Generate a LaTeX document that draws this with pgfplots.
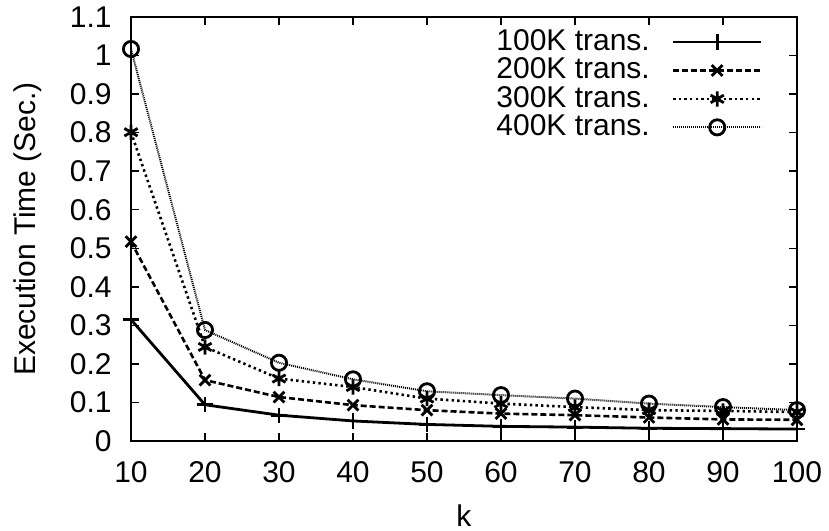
\documentclass[border=0pt]{standalone}
\usepackage{pgfplots}
\pgfplotsset{compat=1.18}
\usepackage{fontspec}
\setmainfont{Liberation Sans}
\begin{document}
\fontsize{15bp}{17bp}\selectfont
\begin{tikzpicture}
\useasboundingbox (-65.5bp,-45bp) rectangle (349bp,220.5bp);
\begin{axis}[
  at={(0,0)}, anchor=south west,
  scale only axis, width=333bp, height=212bp,
  xmin=10, xmax=100, ymin=0, ymax=1.1,
  xtick={10,20,...,100},
  ytick={0,0.1,...,1.1},
  yticklabels={0,0.1,0.2,0.3,0.4,0.5,0.6,0.7,0.8,0.9,1,1.1},
  /pgf/number format/assume math mode=true,
  tick align=inside, major tick length=4.2bp,
  tick style={black, line width=0.7bp},
  axis line style={line width=0.9bp},
  ticklabel style={font=\fontsize{15bp}{17bp}\selectfont},
  xticklabel style={yshift=-5bp},
  yticklabel style={xshift=-4.5bp},
  label style={font=\fontsize{15bp}{17bp}\selectfont},
  xlabel={k}, ylabel={Execution Time (Sec.)},
  xlabel style={yshift=-1bp},
  ylabel style={yshift=4bp},
  legend plot pos=right,
  legend cell align=right,
  legend style={at={(rel axis cs:1,1)}, anchor=north east, xshift=-14bp, yshift=-2bp,
    draw=none, fill=none, font=\fontsize{15bp}{17bp}\selectfont, row sep=-2.5bp, column sep=9bp},
  legend image code/.code={\draw[mark repeat=2,mark phase=2,#1] plot coordinates {(0bp,0bp) (22bp,0bp) (44bp,0bp)};},
  every axis plot/.append style={black, mark size=3.8bp, mark options={solid, line width=1.4bp}},
]
\addplot[line width=1.4bp, mark=+] coordinates {
(10,0.315) (20,0.094) (30,0.067) (40,0.052) (50,0.043) (60,0.038) (70,0.036) (80,0.033) (90,0.032) (100,0.031)};
\addlegendentry{100K trans.}
\addplot[line width=1.3bp, dash pattern=on 3bp off 1.5bp, mark=x] coordinates {
(10,0.517) (20,0.158) (30,0.114) (40,0.093) (50,0.080) (60,0.071) (70,0.067) (80,0.061) (90,0.056) (100,0.055)};
\addlegendentry{200K trans.}
\addplot[line width=1.3bp, dash pattern=on 1.2bp off 1.6bp, mark=asterisk] coordinates {
(10,0.801) (20,0.244) (30,0.162) (40,0.140) (50,0.110) (60,0.097) (70,0.088) (80,0.080) (90,0.078) (100,0.075)};
\addlegendentry{300K trans.}
\addplot[line width=1.0bp, dash pattern=on 0.5bp off 0.5bp, mark=o] coordinates {
(10,1.017) (20,0.288) (30,0.203) (40,0.160) (50,0.129) (60,0.119) (70,0.110) (80,0.097) (90,0.088) (100,0.080)};
\addlegendentry{400K trans.}
\end{axis}
\end{tikzpicture}
\end{document}
